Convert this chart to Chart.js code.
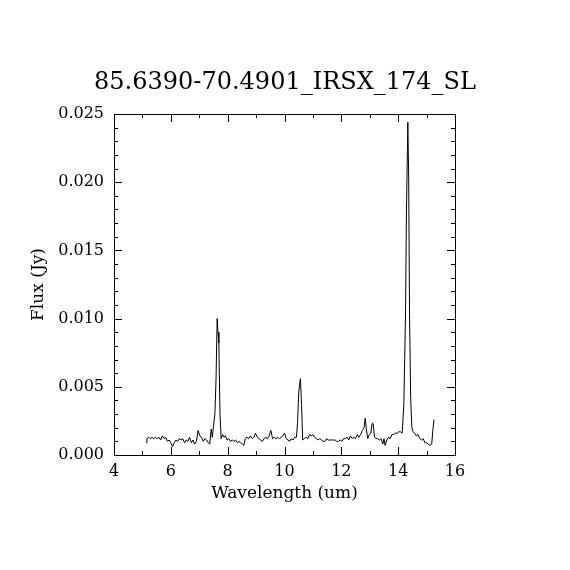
<!DOCTYPE html>
<html>
<head>
<meta charset="utf-8">
<script src="https://cdn.jsdelivr.net/npm/chart.js@4"></script>
<style>
  html, body { margin: 0; padding: 0; background: #fff; }
  canvas { display: block; }
</style>
</head>
<body>
<canvas id="spectrum" width="570" height="570"></canvas>
<script>
// wavelength in um, flux in Jy
const wavelength = [
  5.13, 5.16, 5.22, 5.28, 5.34, 5.40, 5.46, 5.52, 5.58, 5.64, 5.70, 5.76, 5.82, 5.88, 5.94,
  6.00, 6.06, 6.12, 6.18, 6.24, 6.30, 6.36, 6.42, 6.48, 6.54, 6.60, 6.66, 6.72, 6.78, 6.84,
  6.90, 6.96, 7.02, 7.08, 7.14, 7.20, 7.26, 7.32, 7.37, 7.42, 7.46, 7.50, 7.55, 7.59, 7.63,
  7.66, 7.69, 7.73, 7.77, 7.82, 7.87, 7.92, 7.98, 8.04, 8.10, 8.16, 8.22, 8.28, 8.34, 8.40,
  8.46, 8.52, 8.57, 8.62, 8.68, 8.74, 8.80, 8.86, 8.92, 8.98, 9.04, 9.10, 9.16, 9.22, 9.28,
  9.34, 9.40, 9.46, 9.52, 9.58, 9.64, 9.70, 9.76, 9.82, 9.88, 9.94, 10.00, 10.06, 10.12, 10.18,
  10.24, 10.30, 10.36, 10.42, 10.46, 10.50, 10.56, 10.60, 10.64, 10.70, 10.76, 10.82, 10.88, 10.94, 11.00,
  11.06, 11.12, 11.18, 11.24, 11.30, 11.36, 11.42, 11.48, 11.54, 11.60, 11.66, 11.72, 11.78, 11.84, 11.90,
  11.96, 12.02, 12.08, 12.14, 12.20, 12.26, 12.32, 12.38, 12.44, 12.50, 12.56, 12.62, 12.68, 12.74, 12.80,
  12.84, 12.88, 12.93, 12.98, 13.04, 13.08, 13.12, 13.17, 13.22, 13.28, 13.34, 13.40, 13.46, 13.50, 13.54,
  13.60, 13.66, 13.72, 13.78, 13.84, 13.90, 13.96, 14.02, 14.08, 14.14, 14.20, 14.26, 14.29, 14.34, 14.37,
  14.40, 14.44, 14.48, 14.52, 14.58, 14.64, 14.70, 14.76, 14.82, 14.88, 14.94, 15.00, 15.06, 15.12, 15.18,
  15.22, 15.26
];
const flux = [
  0.0009, 0.0012, 0.0013, 0.0012, 0.0013, 0.0012, 0.0013, 0.0012, 0.0013, 0.0011, 0.0014, 0.0012, 0.0013, 0.0010, 0.0011,
  0.0009, 0.0006, 0.0009, 0.0011, 0.0010, 0.0012, 0.0011, 0.0012, 0.0009, 0.0011, 0.0010, 0.0013, 0.0009, 0.0011, 0.0008,
  0.0010, 0.0018, 0.0014, 0.0013, 0.0010, 0.0012, 0.0011, 0.0009, 0.0008, 0.0019, 0.0013, 0.0021, 0.0030, 0.0055, 0.0100,
  0.0090, 0.0082, 0.0030, 0.0012, 0.0015, 0.0013, 0.0014, 0.0011, 0.0012, 0.0010, 0.0011, 0.0010, 0.0011, 0.0009, 0.0010,
  0.0009, 0.0008, 0.0007, 0.0012, 0.0013, 0.0012, 0.0014, 0.0012, 0.0013, 0.0016, 0.0013, 0.0012, 0.0011, 0.0010, 0.0012,
  0.0013, 0.0012, 0.0014, 0.0018, 0.0012, 0.0013, 0.0012, 0.0013, 0.0012, 0.0013, 0.0014, 0.0016, 0.0012, 0.0011, 0.0010,
  0.0012, 0.0011, 0.0013, 0.0013, 0.0024, 0.0046, 0.0056, 0.0037, 0.0011, 0.0012, 0.0013, 0.0012, 0.0015, 0.0014, 0.0015,
  0.0013, 0.0012, 0.0011, 0.0012, 0.0011, 0.0010, 0.0010, 0.0012, 0.0011, 0.0011, 0.0011, 0.0011, 0.0011, 0.0010, 0.0010,
  0.0011, 0.0010, 0.0012, 0.0012, 0.0013, 0.0011, 0.0014, 0.0012, 0.0013, 0.0012, 0.0015, 0.0013, 0.0015, 0.0018, 0.0020,
  0.0027, 0.0019, 0.0012, 0.0015, 0.0016, 0.0023, 0.0023, 0.0013, 0.0012, 0.0012, 0.0011, 0.0012, 0.0008, 0.0012, 0.0007,
  0.0011, 0.0013, 0.0012, 0.0015, 0.0015, 0.0016, 0.0016, 0.0017, 0.0017, 0.0016, 0.0037, 0.0105, 0.0176, 0.0244, 0.0203,
  0.0103, 0.0042, 0.0021, 0.0017, 0.0016, 0.0014, 0.0015, 0.0012, 0.0011, 0.0012, 0.0009, 0.0009, 0.0008, 0.0007, 0.0008,
  0.0018, 0.0026
];
const xTicks = [4, 6, 8, 10, 12, 14, 16];
const yTicks = [0.000, 0.005, 0.010, 0.015, 0.020, 0.025];

const serif = 'DejaVu Serif';

// IDL style: ticks pointing inward on all four sides, box frame
const inwardTicks = {
  id: 'inwardTicks',
  afterDraw(chart) {
    const ctx = chart.ctx;
    const a = chart.chartArea;
    const xs = chart.scales.x, ys = chart.scales.y;
    ctx.save();
    ctx.strokeStyle = '#000';
    ctx.lineWidth = 1;
    ctx.strokeRect(a.left + 0.5, a.top + 0.5, a.right - a.left, a.bottom - a.top);
    ctx.beginPath();
    xs.ticks.forEach(t => {
      const len = xTicks.includes(t.value) ? 8 : 4;
      const px = Math.round(xs.getPixelForValue(t.value)) + 0.5;
      ctx.moveTo(px, a.bottom);
      ctx.lineTo(px, a.bottom - len);
      ctx.moveTo(px, a.top);
      ctx.lineTo(px, a.top + len);
    });
    ys.ticks.forEach(t => {
      const major = yTicks.some(v => Math.abs(v - t.value) < 1e-9);
      const len = major ? 8 : 4;
      const py = Math.round(ys.getPixelForValue(t.value)) + 0.5;
      ctx.moveTo(a.left, py);
      ctx.lineTo(a.left + len, py);
      ctx.moveTo(a.right, py);
      ctx.lineTo(a.right - len, py);
    });
    ctx.stroke();
    ctx.restore();
  }
};

new Chart(document.getElementById('spectrum').getContext('2d'), {
  type: 'line',
  data: {
    datasets: [{
      data: wavelength.map((w, i) => ({ x: w, y: flux[i] })),
      borderColor: '#000',
      borderWidth: 1,
      pointRadius: 0,
      tension: 0,
      fill: false
    }]
  },
  options: {
    responsive: false,
    animation: false,
    layout: { padding: 0 },
    plugins: {
      legend: { display: false },
      tooltip: { enabled: false },
      title: {
        display: true,
        text: '85.6390-70.4901_IRSX_174_SL',
        color: '#000',
        font: { family: serif, size: 24, weight: 'normal' },
        padding: { top: 68.6, bottom: 16.6 }
      }
    },
    scales: {
      x: {
        type: 'linear',
        min: 4,
        max: 16,
        grid: { display: false, tickLength: 0 },
        border: { display: false },
        ticks: {
          stepSize: 1,
          autoSkip: false,
          maxRotation: 0,
          padding: 7,
          color: '#000',
          font: { family: serif, size: 16 },
          callback: v => (xTicks.includes(v) ? String(v) : '')
        },
        title: {
          display: true,
          text: 'Wavelength (um)',
          color: '#000',
          font: { family: serif, size: 17 },
          padding: { top: 0, bottom: 66 }
        },
        afterFit: s => { s.height = 115; }
      },
      y: {
        position: 'left',
        min: 0,
        max: 0.025,
        grid: { display: false, tickLength: 0 },
        border: { display: false },
        ticks: {
          stepSize: 0.001,
          autoSkip: false,
          padding: 10,
          color: '#000',
          font: { family: serif, size: 16 },
          callback: v => (yTicks.some(t => Math.abs(t - v) < 1e-9) ? v.toFixed(3) : '')
        },
        title: {
          display: true,
          text: 'Flux (Jy)',
          color: '#000',
          font: { family: serif, size: 17 },
          padding: { top: 28, bottom: 0 }
        },
        afterFit: s => { s.width = 114; }
      },
      yRight: {
        position: 'right',
        min: 0,
        max: 0.025,
        grid: { display: false },
        border: { display: false },
        ticks: { display: false },
        afterFit: s => { s.width = 115; }
      }
    }
  },
  plugins: [inwardTicks]
});
</script>
</body>
</html>
